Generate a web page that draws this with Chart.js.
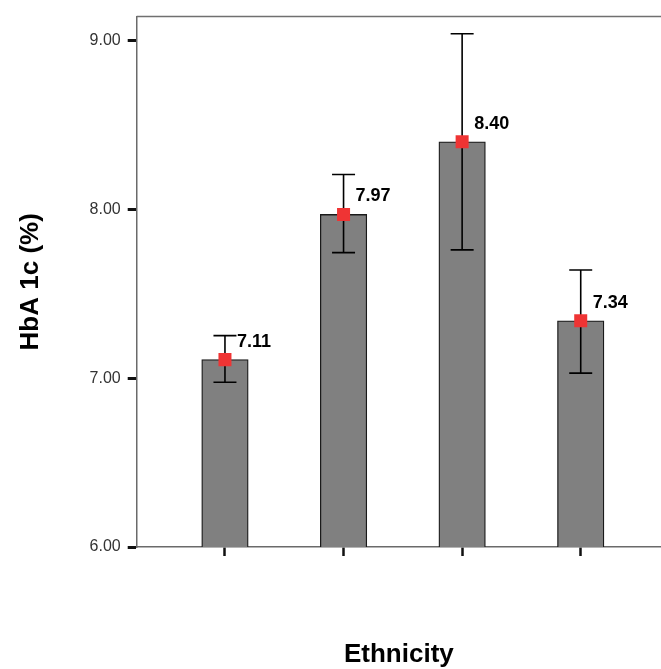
<!DOCTYPE html>
<html>
<head>
<meta charset="utf-8">
<script src="https://cdn.jsdelivr.net/npm/chart.js@4/dist/chart.umd.min.js"></script>
<style>
  html, body { margin: 0; padding: 0; background: #ffffff; }
  canvas { display: block; }
</style>
</head>
<body>
<canvas id="c" width="661" height="669"></canvas>
<script>
// ---- data ----
const categories = ['1', '2', '3', '4'];
const means = [7.11, 7.97, 8.40, 7.34];
const errLow = [6.976, 7.744, 7.76, 7.03];
const errHigh = [7.252, 8.207, 9.04, 7.641];
const yTicks = [6, 7, 8, 9];
const yTickLabels = ['6.00', '7.00', '8.00', '9.00'];
const yTitle = 'HbA 1c (%)';
const xTitle = 'Ethnicity';

const FONT = "Arial, 'Liberation Sans', sans-serif";
const xPos = categories.map((c, i) => i + 1);
const barData = xPos.map((x, i) => ({ x: x, y: means[i] }));

const errorBarPlugin = {
  id: 'errorBars',
  afterDatasetDraw(chart, args) {
    if (args.index !== 0) return;
    const ctx = chart.ctx;
    const xs = chart.scales.x, ys = chart.scales.y;
    ctx.save();
    ctx.strokeStyle = '#000';
    ctx.lineWidth = 1.6;
    const cap = 11.5;
    xPos.forEach((x, i) => {
      const px = xs.getPixelForValue(x);
      const pLo = ys.getPixelForValue(errLow[i]);
      const pHi = ys.getPixelForValue(errHigh[i]);
      ctx.beginPath();
      ctx.moveTo(px, pLo); ctx.lineTo(px, pHi);
      ctx.moveTo(px - cap, pHi); ctx.lineTo(px + cap, pHi);
      ctx.moveTo(px - cap, pLo); ctx.lineTo(px + cap, pLo);
      ctx.stroke();
    });
    ctx.restore();
  },
  afterDatasetsDraw(chart) {
    const ctx = chart.ctx;
    const xs = chart.scales.x, ys = chart.scales.y;
    const a = chart.chartArea;
    ctx.save();
    // top frame line
    ctx.strokeStyle = '#707070';
    ctx.lineWidth = 1.5;
    ctx.beginPath();
    ctx.moveTo(a.left, a.top); ctx.lineTo(a.right, a.top);
    ctx.stroke();
    // value labels
    ctx.fillStyle = '#000';
    ctx.font = 'bold 18px ' + FONT;
    ctx.textAlign = 'left';
    ctx.textBaseline = 'middle';
    xPos.forEach((x, i) => {
      const px = xs.getPixelForValue(x);
      const py = ys.getPixelForValue(means[i]);
      ctx.fillText(means[i].toFixed(2), px + 12, py - 18);
    });
    ctx.restore();
  }
};

new Chart(document.getElementById('c'), {
  data: {
    datasets: [
      {
        type: 'bar',
        data: barData,
        backgroundColor: '#808080',
        borderColor: '#1a1a1a',
        borderWidth: 1.3,
        barThickness: 46.5,
        order: 2
      },
      {
        type: 'scatter',
        data: barData,
        pointStyle: 'rect',
        pointRadius: 9.2,
        pointHoverRadius: 9.2,
        pointBackgroundColor: '#ef3434',
        pointBorderWidth: 0,
        order: 1
      }
    ]
  },
  options: {
    responsive: false,
    animation: false,
    devicePixelRatio: 1,
    layout: { autoPadding: false, padding: { top: 15, right: 0, bottom: 0, left: 0 } },
    plugins: { legend: { display: false }, tooltip: { enabled: false } },
    scales: {
      x: {
        type: 'linear',
        min: 0.2557,
        max: 4.677,
        offset: false,
        afterBuildTicks(scale) { scale.ticks = xPos.map(v => ({ value: v })); },
        afterFit(scale) { scale.height = 122; scale.paddingRight = 0; scale.paddingLeft = 0; },
        ticks: { display: false },
        grid: { offset: false, drawOnChartArea: false, drawTicks: true, tickLength: 9, tickWidth: 2.5, tickColor: '#111' },
        border: { display: true, color: '#6a6a6a', width: 1.5 },
        title: {
          display: true, text: xTitle, color: '#000',
          font: { family: FONT, size: 26, weight: 'bold', lineHeight: 1 },
          padding: { top: 0, bottom: 1 }
        }
      },
      y: {
        type: 'linear',
        min: 6,
        max: 9.142,
        afterBuildTicks(scale) { scale.ticks = yTicks.map(v => ({ value: v })); },
        afterFit(scale) { scale.width = 136.7; },
        ticks: {
          callback: (v) => yTickLabels[yTicks.indexOf(v)],
          color: '#333',
          font: { family: FONT, size: 16 },
          padding: 7
        },
        grid: { drawOnChartArea: false, drawTicks: true, tickLength: 9, tickWidth: 3, tickColor: '#111' },
        border: { display: true, color: '#6a6a6a', width: 1.5 },
        title: {
          display: true, text: yTitle, color: '#000',
          font: { family: FONT, size: 26, weight: 'bold', lineHeight: 1 },
          padding: { top: 18, bottom: 0 }
        }
      }
    }
  },
  plugins: [errorBarPlugin]
});
</script>
</body>
</html>
